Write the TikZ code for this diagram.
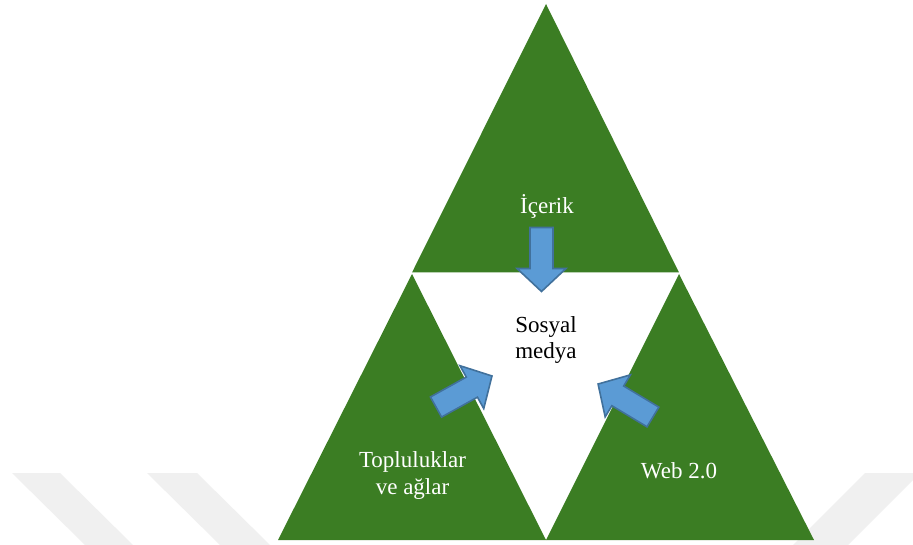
\documentclass[tikz,border=0pt]{standalone}
\usepackage{fontspec}
\setmainfont{Liberation Serif}
\definecolor{tgreen}{HTML}{3B7D23}
\definecolor{afill}{HTML}{5B9BD5}
\definecolor{aline}{HTML}{41719C}
\definecolor{wmark}{HTML}{F0F0F0}
\tikzset{
  tri/.style={fill=tgreen},
  blockarrow/.style={fill=afill, draw=aline, line width=1.6pt, line join=miter},
  wm/.style={fill=wmark},
  lbl/.style={font=\fontsize{23}{26}\selectfont, inner sep=0pt, anchor=base},
}
\newcommand\myblockarrow{(-32,-11.5) -- (9,-11.5) -- (9,-24.5) -- (32,0) -- (9,24.5) -- (9,11.5) -- (-32,11.5) -- cycle}
\begin{document}
\begin{tikzpicture}[x=1pt,y=-1pt]
\useasboundingbox (0,0) rectangle (913,545);
\fill[white] (0,0) rectangle (913,545);
% watermark
\fill[wm] (12,473) -- (60,473) -- (133,545) -- (85,545) -- cycle;
\fill[wm] (147,473) -- (197,473) -- (270,545) -- (220,545) -- cycle;
\fill[wm] (865,473) -- (920,473) -- (848,545) -- (793,545) -- cycle;
% triangles
\coordinate (A) at (546,4);
\coordinate (TL) at (412,272.5);
\coordinate (TR) at (679,272.5);
\coordinate (L) at (412,274);
\coordinate (R) at (679,274);
\coordinate (BL) at (278,540);
\coordinate (BM) at (546,540);
\coordinate (BR) at (814,540);
\fill[tri] (A) -- (TR) -- (TL) -- cycle;
\fill[tri] (L) -- (BM) -- (BL) -- cycle;
\fill[tri] (R) -- (BR) -- (BM) -- cycle;
% arrows
\begin{scope}[shift={(541.5,259.5)}, rotate=-90]
  \draw[blockarrow] \myblockarrow;
\end{scope}
\begin{scope}[shift={(464,391.5)}, rotate=29]
  \draw[blockarrow] \myblockarrow;
\end{scope}
\begin{scope}[shift={(625.5,400.5)}, rotate=149]
  \draw[blockarrow] \myblockarrow;
\end{scope}
% labels
\node[lbl, text=white] (icerik) at (547,214) {İçerik};
\node[lbl] (sosyal) at (546,333) {Sosyal};
\node[lbl] (medya) at (546,359) {medya};
\node[lbl, text=white] (topl) at (412.5,467) {Topluluklar};
\node[lbl, text=white] (ve) at (412.5,494) {ve ağlar};
\node[lbl, text=white] (web) at (679,478) {Web 2.0};
\end{tikzpicture}
\end{document}
